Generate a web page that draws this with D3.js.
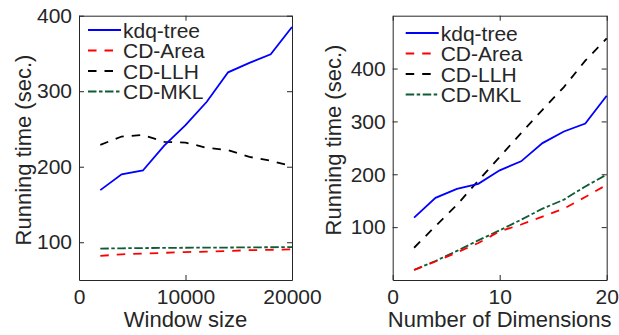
<!DOCTYPE html>
<html>
<head>
<meta charset="utf-8">
<script src="https://cdn.jsdelivr.net/npm/d3@7"></script>
<style>
    body { margin: 0; background: #fff; }
    svg text { font-family: 'Liberation Sans', Arial, sans-serif; fill: #262626; }
    .axis path, .axis line { stroke: #262626; stroke-width: 1; }
    .axis text { font-size: 21px; }
</style>
</head>
<body>
<div id="chart"></div>
<script>
// Left panel: running time vs window size
const windowSizes = [2000, 4000, 6000, 8000, 10000, 12000, 14000, 16000, 18000, 20000];
const winKdq  = [169, 190, 195, 228, 255, 286, 325, 337.5, 349, 385];
const winArea = [82, 84, 85, 86, 87, 87.5, 88.5, 89.5, 90, 90.5];
const winLLH  = [229, 240, 242, 233, 232, 225, 222, 213, 208, 200.5];
const winMKL  = [91.5, 92, 92.3, 92.5, 92.7, 93, 93, 93.2, 93.4, 93.6];
const winXTicks = [0, 10000, 20000];
const winYTicks = [100, 200, 300, 400];

// Right panel: running time vs number of dimensions
const dims = [2, 4, 6, 8, 10, 12, 14, 16, 18, 20];
const dimKdq  = [118, 155.5, 172.5, 182, 207.5, 224.5, 259, 281, 296, 348.5];
const dimArea = [19, 35, 52, 70, 92, 105, 120, 135, 157, 180];
const dimLLH  = [61, 102, 142, 188, 233, 278, 322, 365, 415, 457];
const dimMKL  = [19, 36, 55, 75, 94, 114, 135, 152, 177, 199.5];
const dimXTicks = [0, 10, 20];
const dimYTicks = [100, 200, 300, 400];

const seriesNames = ['kdq-tree', 'CD-Area', 'CD-LLH', 'CD-MKL'];
const seriesStyles = [
    { color: '#0000ff', dash: null },
    { color: '#ff0000', dash: '8.5,8' },
    { color: '#000000', dash: '8.5,8' },
    { color: '#0d5c36', dash: '8.5,2.5,3.5,2.5' }
];

class LinePanel {
    constructor(_svg, _config, _x, _series) {
        this.svg = _svg;
        this.config = _config;
        this.xs = _x;
        this.series = _series;
        this.initVis();
    }

    initVis() {
        let vis = this;
        const c = vis.config;

        vis.xScale = d3.scaleLinear().domain(c.xDomain).range([c.left, c.right]);
        vis.yScale = d3.scaleLinear().domain(c.yDomain).range([c.bottom, c.top]);

        // axes with inward ticks, mirrored on top/right for the box
        vis.svg.append('g')
            .attr('class', 'axis')
            .attr('transform', `translate(0,${c.bottom})`)
            .call(d3.axisBottom(vis.xScale).tickValues(c.xTicks).tickSizeInner(-5).tickSizeOuter(0).tickPadding(9).tickFormat(d3.format('d')));
        vis.svg.append('g')
            .attr('class', 'axis')
            .attr('transform', `translate(0,${c.top})`)
            .call(d3.axisTop(vis.xScale).tickValues(c.xTicks).tickSizeInner(-5).tickSizeOuter(0).tickFormat(''));
        vis.svg.append('g')
            .attr('class', 'axis')
            .attr('transform', `translate(${c.left},0)`)
            .call(d3.axisLeft(vis.yScale).tickValues(c.yTicks).tickSizeInner(-5).tickSizeOuter(0).tickPadding(7));
        vis.svg.append('g')
            .attr('class', 'axis')
            .attr('transform', `translate(${c.right},0)`)
            .call(d3.axisRight(vis.yScale).tickValues(c.yTicks).tickSizeInner(-5).tickSizeOuter(0).tickFormat(''));

        vis.svg.append('text')
            .attr('x', (c.left + c.right) / 2)
            .attr('y', 327)
            .attr('text-anchor', 'middle')
            .style('font-size', '22px')
            .text(c.xTitle);

        vis.svg.append('text')
            .attr('transform', `translate(${c.yTitleX},${c.yTitleY}) rotate(-90)`)
            .attr('text-anchor', 'middle')
            .style('font-size', '22px')
            .text('Running time (sec.)');

        vis.renderVis();
    }

    renderVis() {
        let vis = this;
        const c = vis.config;

        const line = d3.line()
            .x((d, i) => vis.xScale(vis.xs[i]))
            .y(d => vis.yScale(d));

        // draw back to front so kdq-tree sits on top
        vis.series.slice().reverse().forEach((vals, j) => {
            const k = vis.series.length - 1 - j;
            vis.svg.append('path')
                .datum(vals)
                .attr('fill', 'none')
                .attr('stroke', seriesStyles[k].color)
                .attr('stroke-width', 1.8)
                .attr('stroke-dasharray', seriesStyles[k].dash)
                .attr('d', line);
        });

        const legend = vis.svg.selectAll(null)
            .data(seriesNames)
            .join('g')
            .attr('transform', (d, i) => `translate(${c.legendX},${c.legendY + i * 20.5})`);

        legend.append('line')
            .attr('x1', 0)
            .attr('x2', 33)
            .attr('stroke', (d, i) => seriesStyles[i].color)
            .attr('stroke-width', 1.8)
            .attr('stroke-dasharray', (d, i) => seriesStyles[i].dash);

        legend.append('text')
            .attr('x', 35)
            .attr('dy', '0.36em')
            .style('font-size', '21px')
            .text(d => d);
    }
}

const svg = d3.select('#chart')
    .append('svg')
    .attr('width', 619)
    .attr('height', 335);

new LinePanel(svg, {
    left: 79, right: 292, top: 15.7, bottom: 280,
    xDomain: [0, 20000], yDomain: [50, 400],
    xTicks: winXTicks, yTicks: winYTicks,
    xTitle: 'Window size', yTitleX: 31, yTitleY: 150,
    legendX: 88, legendY: 30
}, windowSizes, [winKdq, winArea, winLLH, winMKL]);

new LinePanel(svg, {
    left: 392.7, right: 606.7, top: 15.7, bottom: 280,
    xDomain: [0, 20], yDomain: [0, 500],
    xTicks: dimXTicks, yTicks: dimYTicks,
    xTitle: 'Number of Dimensions', yTitleX: 341, yTitleY: 140,
    legendX: 405.7, legendY: 33
}, dims, [dimKdq, dimArea, dimLLH, dimMKL]);
</script>
</body>
</html>
